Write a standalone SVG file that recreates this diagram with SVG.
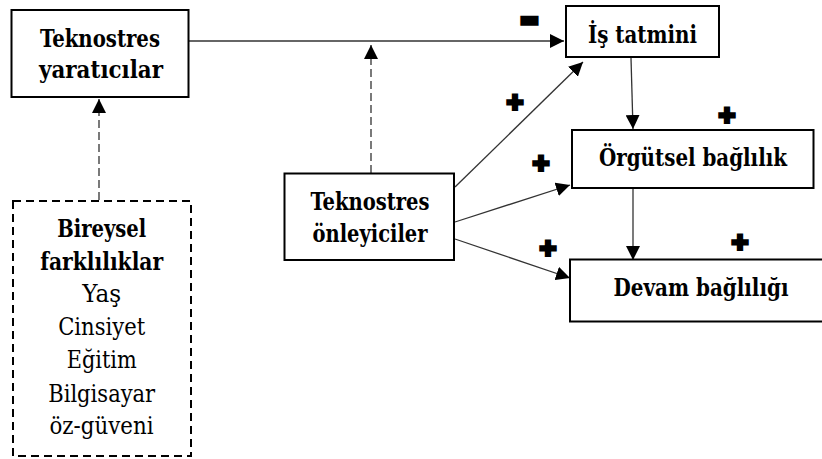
<svg xmlns="http://www.w3.org/2000/svg" width="822" height="459" viewBox="0 0 822 459">
  <style>
    .box { fill: #fff; stroke: #000; stroke-width: 2; }
    .dbox { fill: #fff; stroke: #000; stroke-width: 2; stroke-dasharray: 8 5; }
    text.t { font-family: 'DejaVu Serif Condensed', 'DejaVu Serif', serif; font-stretch: condensed; font-size: 23.5px; fill: #000; text-anchor: middle; }
    text.b { font-weight: bold; }
    .c { stroke: #333; stroke-width: 1.3; fill: none; marker-end: url(#ah); }
    .d { stroke-dasharray: 8 4; }
    text.sym { font-family: 'DejaVu Sans', sans-serif; font-size: 21px; fill: #000; stroke: #000; stroke-width: 2.2; text-anchor: middle; }
  </style>
  <defs>
    <marker id="ah" markerUnits="userSpaceOnUse" markerWidth="14" markerHeight="14" refX="14" refY="7" orient="auto">
      <path d="M0,0 L14,7 L0,14 z" fill="#000"/>
    </marker>
  </defs>
  <rect width="822" height="459" fill="#fff"/>

  <g id="connectors">
    <line class="c" x1="189" y1="41" x2="564" y2="41"/>
    <line class="c d" x1="371" y1="173" x2="371" y2="45"/>
    <line class="c d" x1="99" y1="200" x2="99" y2="99"/>
    <line class="c" x1="455" y1="187" x2="583" y2="62"/>
    <line class="c" x1="455" y1="222" x2="570" y2="185"/>
    <line class="c" x1="455" y1="239" x2="570" y2="278"/>
    <line class="c" x1="631" y1="58" x2="633" y2="129"/>
    <line class="c" x1="633" y1="188" x2="633" y2="260"/>
  </g>

  <g id="n1">
    <rect class="box" x="11.5" y="10" width="177" height="87"/>
    <text class="t b" x="100" y="46.5" textLength="120" lengthAdjust="spacingAndGlyphs">Teknostres</text>
    <text class="t b" x="101" y="78" textLength="124" lengthAdjust="spacingAndGlyphs">yaratıcılar</text>
  </g>
  <g id="n2">
    <rect class="box" x="566" y="6" width="153" height="51"/>
    <text class="t b" x="642.5" y="43" textLength="109" lengthAdjust="spacingAndGlyphs">İş tatmini</text>
  </g>
  <g id="n3">
    <rect class="box" x="572" y="130" width="241.5" height="58"/>
    <text class="t b" x="693" y="166" textLength="188" lengthAdjust="spacingAndGlyphs">Örgütsel bağlılık</text>
  </g>
  <g id="n4">
    <rect class="box" x="570" y="259.5" width="270" height="62"/>
    <text class="t b" x="701" y="296" textLength="175" lengthAdjust="spacingAndGlyphs">Devam bağlılığı</text>
  </g>
  <g id="n5">
    <rect class="box" x="284.5" y="173.5" width="169.5" height="86.5"/>
    <text class="t b" x="370" y="209.5" textLength="119" lengthAdjust="spacingAndGlyphs">Teknostres</text>
    <text class="t b" x="370" y="241.5" textLength="115" lengthAdjust="spacingAndGlyphs">önleyiciler</text>
  </g>
  <g id="n6">
    <rect class="dbox" x="13" y="201" width="178" height="255"/>
    <text class="t b" x="101.7" y="237" textLength="89" lengthAdjust="spacingAndGlyphs">Bireysel</text>
    <text class="t b" x="101.7" y="270" textLength="123" lengthAdjust="spacingAndGlyphs">farklılıklar</text>
    <text class="t" x="101.7" y="301.7" textLength="39" lengthAdjust="spacingAndGlyphs">Yaş</text>
    <text class="t" x="101.7" y="335" textLength="87" lengthAdjust="spacingAndGlyphs">Cinsiyet</text>
    <text class="t" x="101.7" y="367.5" textLength="70" lengthAdjust="spacingAndGlyphs">Eğitim</text>
    <text class="t" x="101.7" y="401.5" textLength="107" lengthAdjust="spacingAndGlyphs">Bilgisayar</text>
    <text class="t" x="101.5" y="433.5" textLength="104" lengthAdjust="spacingAndGlyphs">öz-güveni</text>
  </g>

  <g id="signs">
    <text class="sym" x="529.5" y="26">▬</text>
    <text class="sym" x="515" y="110">✚</text>
    <text class="sym" x="541" y="171">✚</text>
    <text class="sym" x="548" y="256">✚</text>
    <text class="sym" x="727" y="123">✚</text>
    <text class="sym" x="740" y="250">✚</text>
  </g>
</svg>
